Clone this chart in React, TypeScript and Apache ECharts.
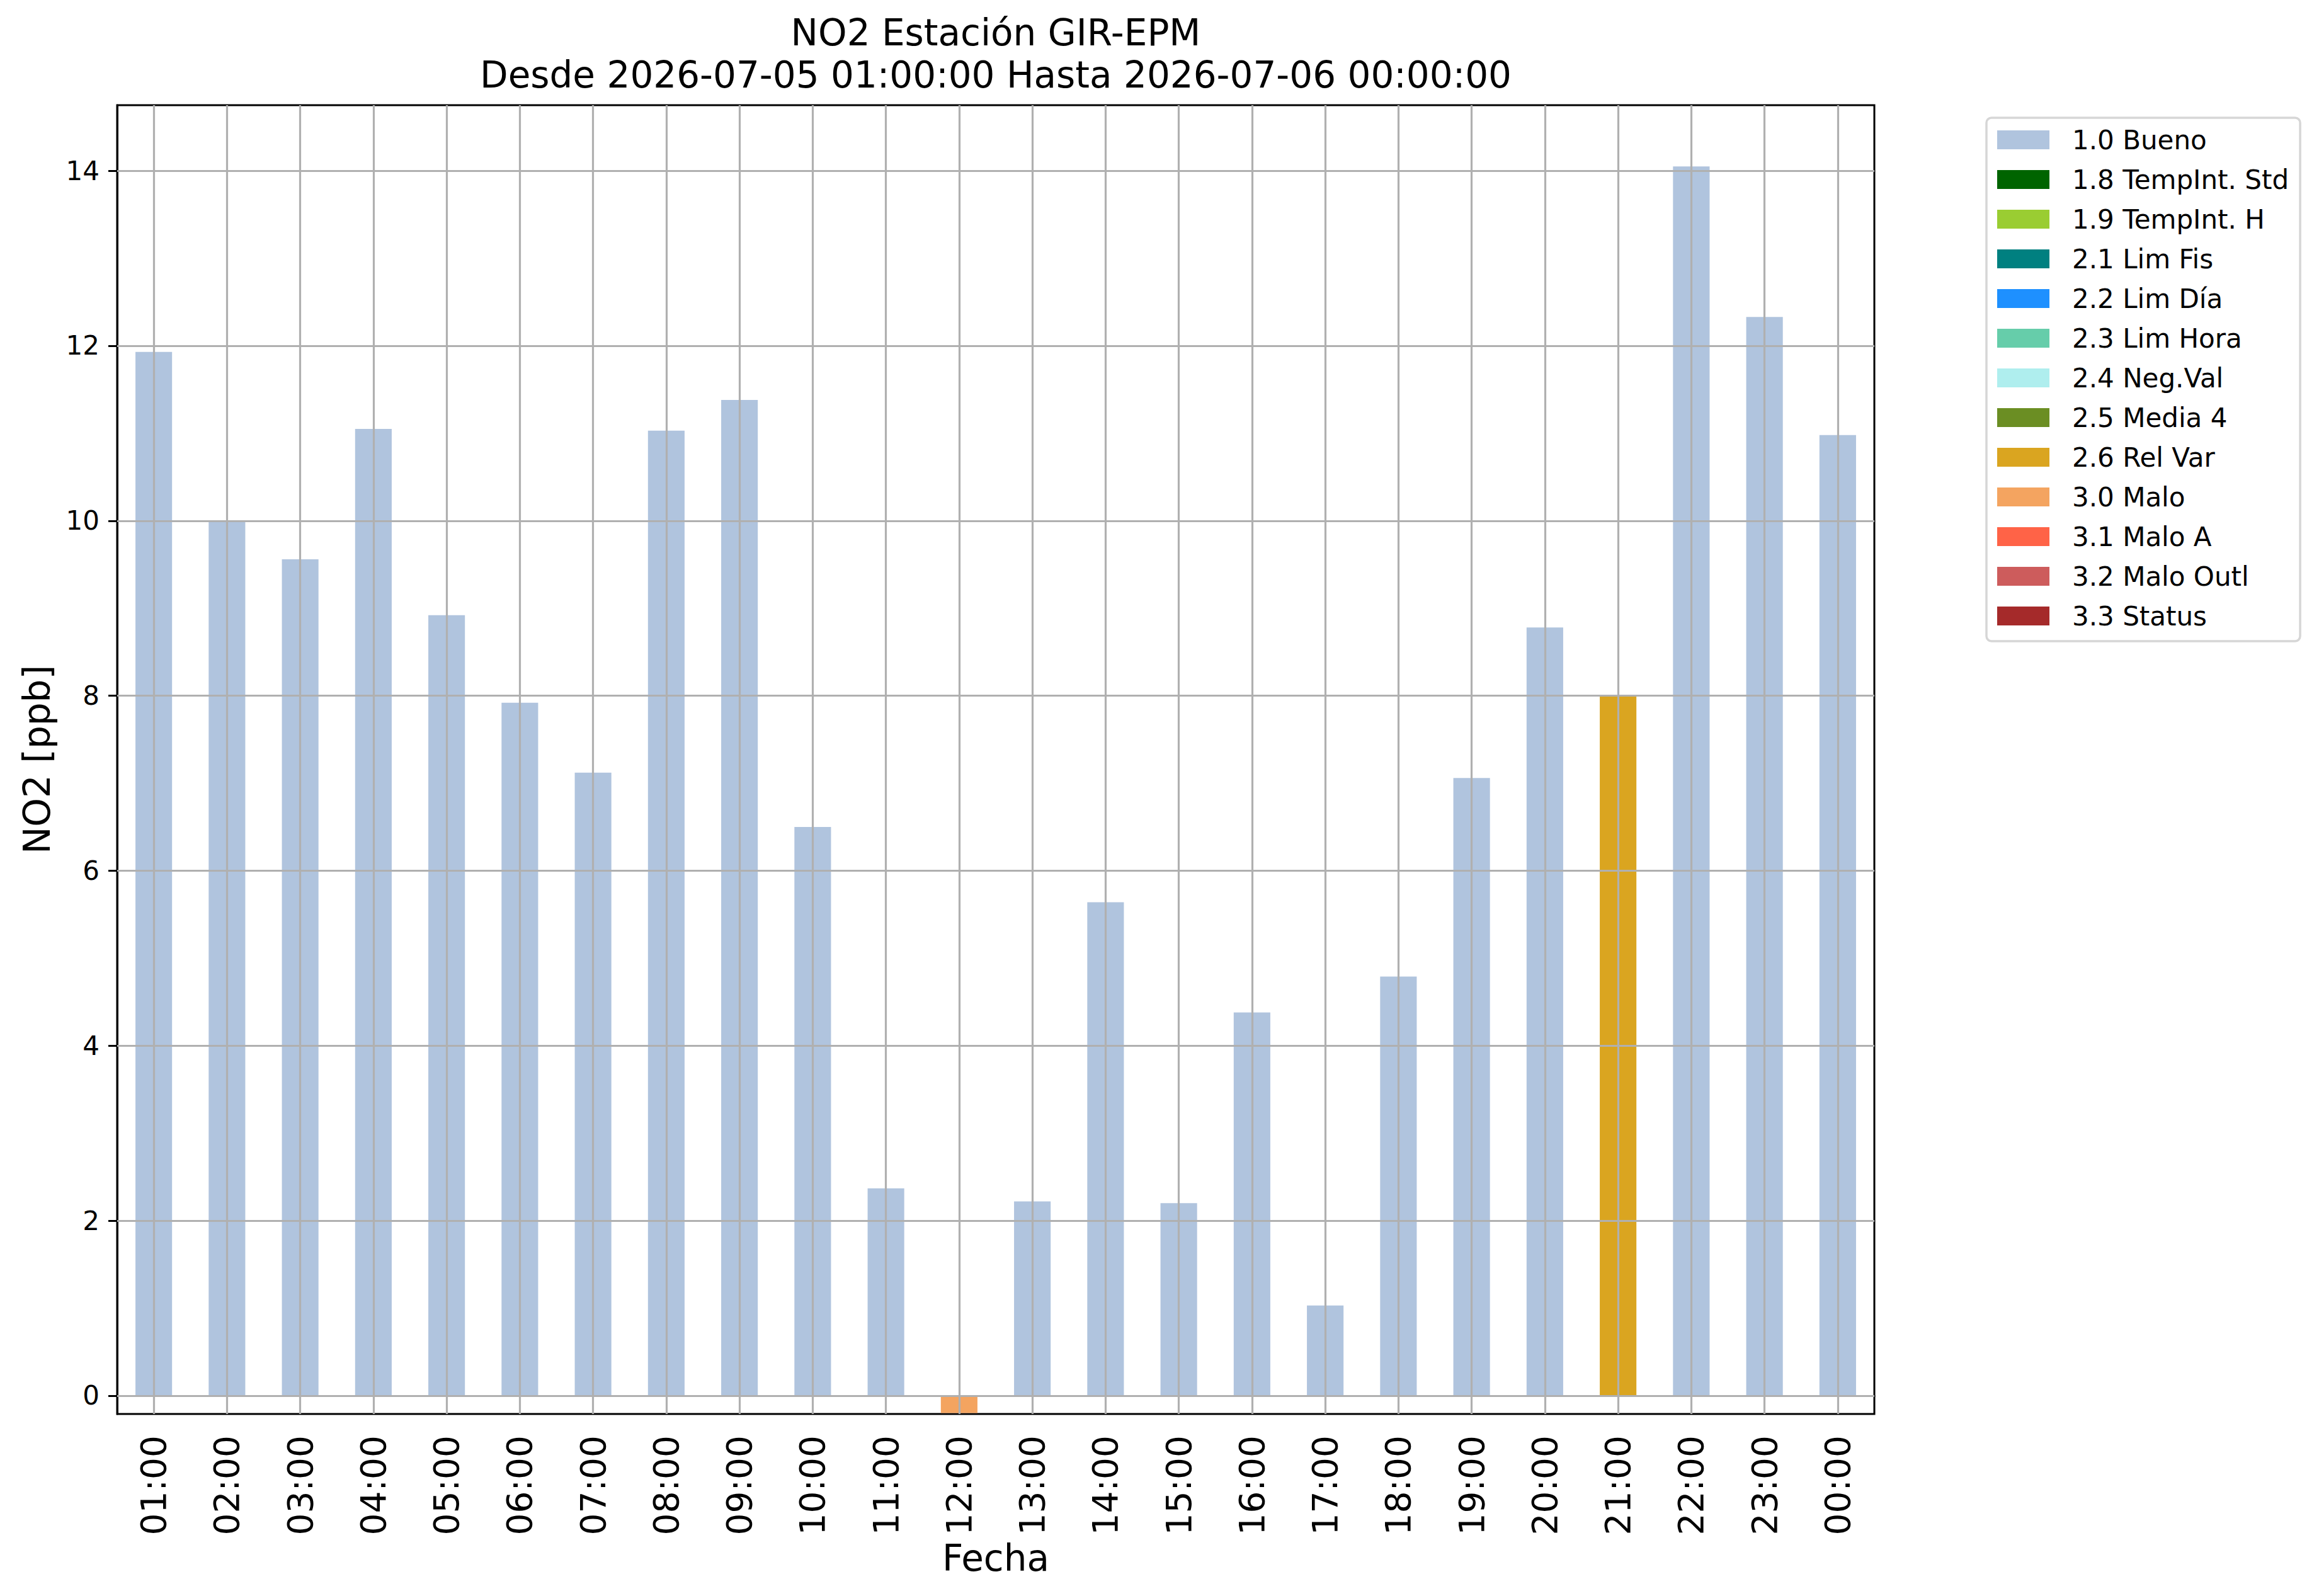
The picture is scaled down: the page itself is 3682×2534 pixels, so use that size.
import React, { useEffect, useRef } from "react";
import * as echarts from "echarts";

const hours = [
  "01:00", "02:00", "03:00", "04:00", "05:00", "06:00", "07:00", "08:00",
  "09:00", "10:00", "11:00", "12:00", "13:00", "14:00", "15:00", "16:00",
  "17:00", "18:00", "19:00", "20:00", "21:00", "22:00", "23:00", "00:00",
];

const no2Values = [
  11.93, 10.0, 9.56, 11.05, 8.92, 7.92, 7.12, 11.03,
  11.38, 6.5, 2.37, -0.2, 2.22, 5.64, 2.2, 4.38,
  1.03, 4.79, 7.06, 8.78, 8.0, 14.05, 12.33, 10.98,
];

const hourFlags = [
  "1.0 Bueno", "1.0 Bueno", "1.0 Bueno", "1.0 Bueno", "1.0 Bueno", "1.0 Bueno",
  "1.0 Bueno", "1.0 Bueno", "1.0 Bueno", "1.0 Bueno", "1.0 Bueno", "3.0 Malo",
  "1.0 Bueno", "1.0 Bueno", "1.0 Bueno", "1.0 Bueno", "1.0 Bueno", "1.0 Bueno",
  "1.0 Bueno", "1.0 Bueno", "2.6 Rel Var", "1.0 Bueno", "1.0 Bueno", "1.0 Bueno",
];

const flagLabels = [
  "1.0 Bueno", "1.8 TempInt. Std", "1.9 TempInt. H", "2.1 Lim Fis", "2.2 Lim Día",
  "2.3 Lim Hora", "2.4 Neg.Val", "2.5 Media 4", "2.6 Rel Var", "3.0 Malo",
  "3.1 Malo A", "3.2 Malo Outl", "3.3 Status",
];

const flagColors = [
  "#b0c4de", "#006400", "#9acd32", "#008080", "#1e90ff",
  "#66cdaa", "#afeeee", "#6b8e23", "#daa520", "#f4a460",
  "#ff6347", "#cd5c5c", "#a52a2a",
];

const yTicks = [0, 2, 4, 6, 8, 10, 12, 14];
const yMin = -0.21;
const yMax = 14.75;

const titleText = "NO2 Estación GIR-EPM\nDesde 2026-07-05 01:00:00 Hasta 2026-07-06 00:00:00";
const xName = "Fecha";
const yName = "NO2 [ppb]";

const FONT = "DejaVu Sans";
const GRID_COLOR = "#b0b0b0";

export default function App() {
  const ref = useRef<HTMLDivElement>(null);

  useEffect(() => {
    document.body.style.margin = "0";
    if (!ref.current) return;
    const chart = echarts.init(ref.current, undefined, { renderer: "svg" });

    const series: any[] = flagLabels.map((label, i) => {
      const s: any = {
        name: label,
        type: "bar",
        stack: "flags",
        barWidth: "50%",
        itemStyle: { color: flagColors[i] },
        data: no2Values.map((v, k) => (hourFlags[k] === label ? v : null)),
      };
      if (i === 0) {
        s.markLine = {
          silent: true,
          symbol: ["none", "none"],
          label: { show: false },
          lineStyle: { color: GRID_COLOR, width: 3.2, type: "solid" },
          emphasis: { disabled: true },
          data: [
            ...hours.map((h) => ({ xAxis: h })),
            ...yTicks.map((t) => ({ yAxis: t })),
          ],
        };
      }
      return s;
    });

    chart.setOption({
      animation: false,
      backgroundColor: "#ffffff",
      textStyle: { fontFamily: FONT, color: "#000" },
      title: {
        text: titleText,
        left: 1581,
        top: 18,
        textAlign: "center",
        padding: 0,
        textStyle: {
          fontFamily: FONT,
          fontSize: 58,
          fontWeight: "normal",
          color: "#000",
          lineHeight: 67,
        },
      },
      legend: {
        orient: "vertical",
        left: 3154,
        top: 187,
        icon: "rect",
        itemWidth: 83,
        itemHeight: 30,
        itemGap: 21,
        padding: [14, 18, 19, 17],
        borderColor: "#d6d6d6",
        borderWidth: 3.5,
        borderRadius: 8,
        backgroundColor: "#ffffff",
        selectedMode: false,
        textStyle: {
          fontFamily: FONT,
          fontSize: 42,
          color: "#000",
          lineHeight: 42,
          padding: [0, 0, 0, 31],
        },
        data: flagLabels,
      },
      grid: {
        left: 186,
        right: 706,
        top: 167,
        bottom: 289,
        show: true,
        borderColor: "#000",
        borderWidth: 3,
        backgroundColor: "transparent",
      },
      xAxis: {
        type: "category",
        data: hours,
        boundaryGap: true,
        name: xName,
        nameLocation: "middle",
        nameGap: 192,
        nameTextStyle: { fontFamily: FONT, fontSize: 58, color: "#000" },
        axisLine: { show: true, lineStyle: { color: "#000", width: 3 } },
        axisTick: {
          show: true,
          alignWithLabel: true,
          interval: 0,
          length: 15,
          lineStyle: { color: "#000", width: 3 },
        },
        axisLabel: {
          interval: 0,
          rotate: 90,
          margin: 34,
          fontFamily: FONT,
          fontSize: 55,
          color: "#000",
        },
        splitLine: { show: false },
      },
      yAxis: {
        type: "value",
        min: yMin,
        max: yMax,
        name: yName,
        nameLocation: "middle",
        nameRotate: 90,
        nameGap: 98,
        nameTextStyle: { fontFamily: FONT, fontSize: 58, color: "#000" },
        axisLine: { show: true, lineStyle: { color: "#000", width: 3 } },
        axisTick: {
          show: true,
          length: 14,
          customValues: yTicks,
          lineStyle: { color: "#000", width: 3 },
        },
        axisLabel: {
          customValues: yTicks,
          margin: 28,
          fontFamily: FONT,
          fontSize: 42,
          color: "#000",
        },
        splitLine: { show: false },
      },
      series,
    });

    return () => chart.dispose();
  }, []);

  return <div ref={ref} style={{ width: 3682, height: 2534 }} />;
}
